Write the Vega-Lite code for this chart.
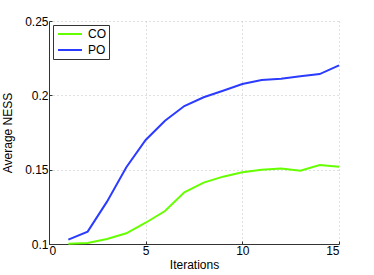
{
  "$schema": "https://vega.github.io/schema/vega-lite/v6.json",
  "width": 290,
  "height": 223,
  "autosize": {"type": "none"},
  "padding": {"left": 49, "top": 21, "right": 35, "bottom": 31},
  "background": "white",
  "config": {
    "font": "Liberation Sans",
    "view": {"stroke": null},
    "axis": {
      "labelFont": "Liberation Sans",
      "titleFont": "Liberation Sans",
      "labelFontSize": 12,
      "titleFontSize": 12,
      "titleFontWeight": "normal",
      "labelColor": "black",
      "titleColor": "black",
      "domainColor": "#333",
      "domainWidth": 1,
      "tickColor": "#333",
      "tickSize": -3,
      "gridColor": "#c0c0c0",
      "gridDash": [1, 3],
      "gridWidth": 1,
      "labelPadding": 4
    }
  },
  "data": {
    "values": [
      {"it": 1, "s": "CO", "v": 0.1002},
      {"it": 2, "s": "CO", "v": 0.1007},
      {"it": 3, "s": "CO", "v": 0.1034},
      {"it": 4, "s": "CO", "v": 0.1072},
      {"it": 5, "s": "CO", "v": 0.1143},
      {"it": 6, "s": "CO", "v": 0.1222},
      {"it": 7, "s": "CO", "v": 0.1348},
      {"it": 8, "s": "CO", "v": 0.1413},
      {"it": 9, "s": "CO", "v": 0.1453},
      {"it": 10, "s": "CO", "v": 0.1482},
      {"it": 11, "s": "CO", "v": 0.15},
      {"it": 12, "s": "CO", "v": 0.1507},
      {"it": 13, "s": "CO", "v": 0.1493},
      {"it": 14, "s": "CO", "v": 0.1531},
      {"it": 15, "s": "CO", "v": 0.152},
      {"it": 1, "s": "PO", "v": 0.1029},
      {"it": 2, "s": "PO", "v": 0.1083},
      {"it": 3, "s": "PO", "v": 0.1285},
      {"it": 4, "s": "PO", "v": 0.1516},
      {"it": 5, "s": "PO", "v": 0.170},
      {"it": 6, "s": "PO", "v": 0.1829},
      {"it": 7, "s": "PO", "v": 0.1928},
      {"it": 8, "s": "PO", "v": 0.1987},
      {"it": 9, "s": "PO", "v": 0.2031},
      {"it": 10, "s": "PO", "v": 0.2076},
      {"it": 11, "s": "PO", "v": 0.2103},
      {"it": 12, "s": "PO", "v": 0.2112},
      {"it": 13, "s": "PO", "v": 0.2128},
      {"it": 14, "s": "PO", "v": 0.2143},
      {"it": 15, "s": "PO", "v": 0.2201}
    ]
  },
  "mark": {"type": "line", "strokeWidth": 2},
  "encoding": {
    "x": {
      "field": "it",
      "type": "quantitative",
      "title": "Iterations",
      "scale": {"domain": [0, 15], "nice": false, "zero": false},
      "axis": {"values": [0, 5, 10, 15], "titlePadding": 3}
    },
    "y": {
      "field": "v",
      "type": "quantitative",
      "title": "Average NESS",
      "scale": {"domain": [0.1, 0.25], "nice": false, "zero": false},
      "axis": {"values": [0.1, 0.15, 0.2, 0.25], "format": "~g", "titlePadding": 10}
    },
    "color": {
      "field": "s",
      "type": "nominal",
      "title": null,
      "scale": {"domain": ["CO", "PO"], "range": ["#66ff00", "#2b3bff"]},
      "legend": {
        "orient": "none",
        "legendX": 4,
        "legendY": 4,
        "symbolType": "M-2.4,0H2.4",
        "symbolSize": 100,
        "symbolStrokeWidth": 2,
        "symbolOffset": 8,
        "labelFont": "Liberation Sans",
        "labelFontSize": 12,
        "labelColor": "black",
        "labelOffset": 12,
        "strokeColor": "#333",
        "fillColor": "white",
        "padding": 3,
        "rowPadding": 4
      }
    }
  }
}
